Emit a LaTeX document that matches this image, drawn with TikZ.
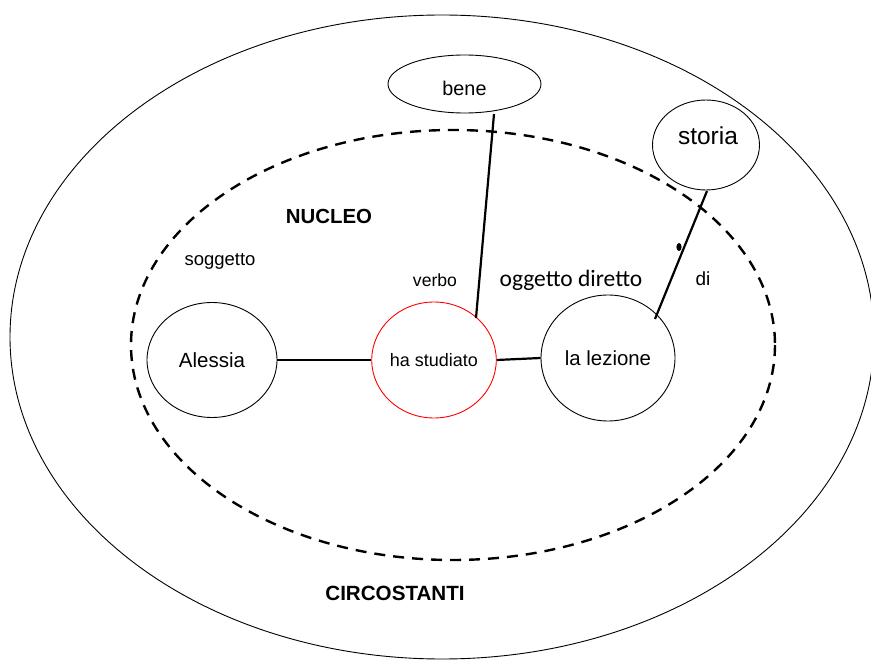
\documentclass[tikz,border=0pt]{standalone}
\usepackage{fontspec}
\setmainfont{Liberation Sans}
\newfontfamily\calib{Carlito}
\usetikzlibrary{shapes.geometric}
\begin{document}
\begin{tikzpicture}[x=1pt,y=-1pt,
  thin line/.style={line width=0.9pt},
  conn/.style={line width=2.2pt},
  bubble/.style={ellipse,draw,thin line,inner sep=0pt,align=center},
  fs/.style={font=\fontsize{#1}{#1}\selectfont}]
\useasboundingbox (0,0) rectangle (871,660);
\clip (0,0) rectangle (871,660);
% outer ellipse
\draw[thin line] (442,337) ellipse [x radius=432, y radius=322];
% dashed ellipse
\draw[line width=2.4pt,dash pattern=on 11pt off 8pt] (453,345) ellipse [x radius=322, y radius=215];
% nodes
\node[bubble,minimum width=130pt,minimum height=115pt,fs=20.5] (ale) at (212,360) {Alessia};
\node[bubble,draw=red,minimum width=116pt,minimum height=116pt,fs=18] (ha) at (434,360) {ha studiato};
\node[bubble,minimum width=134pt,minimum height=126pt,fs=20.4] (lez) at (608,358) {la lezione};
\node[bubble,minimum width=153pt,minimum height=58pt] (bene) at (464.5,84) {};
\node[fs=19.8] (benet) at (464.5,88) {bene};
\node[bubble,minimum width=107pt,minimum height=90pt] (sto) at (706,145) {};
\node[fs=24.5] (stot) at (708,136) {storia};
% connectors
\draw[conn] (ale.east) -- (ha.west);
\draw[conn] (ha.east) -- (lez.west);
\coordinate (b1) at (494,114);
\coordinate (b2) at (476,318);
\draw[conn] (b1) -- (b2);
\coordinate (s1) at (707,191);
\coordinate (s2) at (655,319);
\draw[conn] (s1) -- (s2);
\fill (679,247) ellipse [x radius=2.6pt, y radius=4pt];
% labels
\node[font=\bfseries\fontsize{20.4}{20.4}\selectfont] (nuc) at (329,216) {NUCLEO};
\node[fs=18.5] (sog) at (220,261) {soggetto};
\node[fs=17.6] (ver) at (435,280) {verbo};
\node[font=\calib\fontsize{23.5}{23.5}\selectfont] (ogg) at (571,280) {oggetto diretto};
\node[fs=19] (di) at (703,279) {di};
\node[font=\bfseries\fontsize{20.6}{20.6}\selectfont] (circ) at (395,593) {CIRCOSTANTI};
\end{tikzpicture}
\end{document}
